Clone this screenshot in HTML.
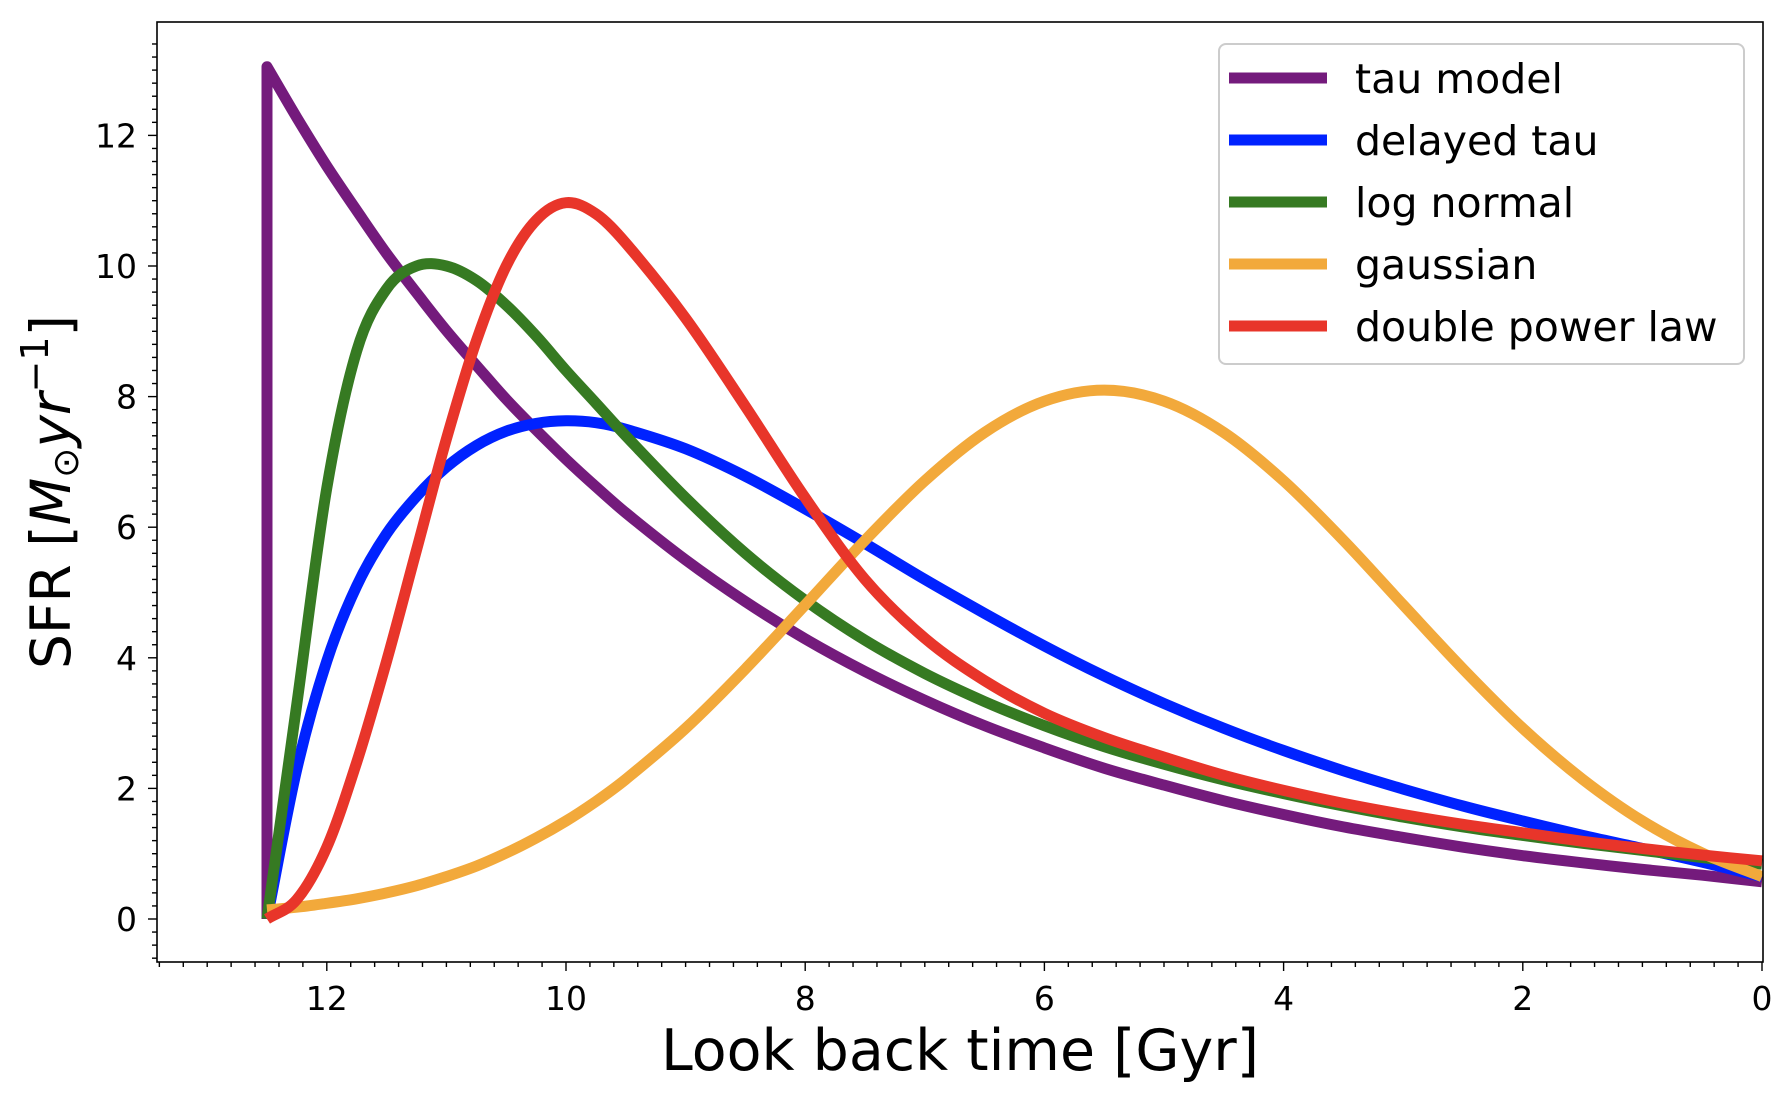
<!DOCTYPE html>
<html><head><meta charset="utf-8"><style>
html,body{margin:0;padding:0;background:#fff;}
svg{display:block;font-family:"DejaVu Sans","Liberation Sans",sans-serif;}
</style></head><body>
<svg id="chart" width="1788" height="1094" viewBox="0 0 1788 1094" xmlns="http://www.w3.org/2000/svg">
<defs><clipPath id="plotclip"><rect x="157" y="22" width="1606" height="940"/></clipPath></defs>
<g id="curves" clip-path="url(#plotclip)"></g>
<rect x="157" y="22" width="1606" height="940" fill="none" stroke="#000" stroke-width="1.6"/>
<g id="ticks"></g>
<text x="960" y="1070" font-size="57" text-anchor="middle">Look back time [Gyr]</text>
<text transform="translate(70,492) rotate(-90)" font-size="55" text-anchor="middle">SFR [<tspan font-style="italic">M</tspan><tspan font-size="36" dy="8">⊙</tspan><tspan font-style="italic" dy="-8">yr</tspan><tspan font-size="38" dy="-22">−1</tspan><tspan dy="22">]</tspan></text>
<g id="legend"></g>
</svg>
<script>
const times = [12.5,12.25,12,11.75,11.5,11.25,11,10.75,10.5,10.25,10,9.75,9.5,9,8.5,8,7.5,7,6.5,6,5.5,5,4.5,4,3.5,3,2.5,2,1.5,1,0.5,0];
const tauModel = [13.05,12.27,11.53,10.85,10.19,9.59,9.01,8.48,7.96,7.49,7.04,6.62,6.22,5.50,4.86,4.29,3.79,3.35,2.96,2.62,2.31,2.05,1.81,1.60,1.41,1.25,1.10,0.97,0.86,0.76,0.67,0.57];
const delayedTau = [0,2.3,3.95,5.1,5.9,6.47,6.92,7.25,7.47,7.59,7.63,7.6,7.5,7.2,6.78,6.28,5.75,5.2,4.68,4.18,3.72,3.3,2.92,2.58,2.27,1.99,1.73,1.5,1.28,1.08,0.87,0.65];
const logNormal = [0,3.3,6.6,8.7,9.65,10.0,10.0,9.78,9.4,8.93,8.4,7.9,7.4,6.45,5.6,4.88,4.27,3.76,3.33,2.96,2.64,2.37,2.13,1.92,1.73,1.56,1.41,1.28,1.16,1.05,0.94,0.84];
const gaussian = [0.14,0.18,0.24,0.31,0.40,0.51,0.65,0.81,1.01,1.24,1.50,1.80,2.14,2.92,3.83,4.81,5.80,6.71,7.45,7.93,8.1,7.93,7.45,6.71,5.80,4.81,3.83,2.92,2.14,1.50,1.01,0.65];
const doublePower = [0,0.3,1.1,2.4,3.95,5.65,7.35,8.85,10.0,10.7,10.97,10.8,10.35,9.2,7.85,6.45,5.2,4.3,3.65,3.15,2.78,2.48,2.2,1.97,1.77,1.6,1.45,1.32,1.19,1.08,0.98,0.89];
const seriesNames = ["tau model","delayed tau","log normal","gaussian","double power law"];
const seriesColors = ["#741b7c","#0022ff","#367a22","#f2a93b","#e8352a"];
const xTickLabels = ["12","10","8","6","4","2","0"];
const yTickLabels = ["0","2","4","6","8","10","12"];

const NS="http://www.w3.org/2000/svg";
function X(t){return 1762-119.6*t;}
function Y(v){return 919-65.3*v;}
function mk(tag,attrs,parent){const e=document.createElementNS(NS,tag);for(const k in attrs)e.setAttribute(k,attrs[k]);parent.appendChild(e);return e;}

const curves=document.getElementById('curves');
const allSeries=[tauModel,delayedTau,logNormal,gaussian,doublePower];
allSeries.forEach((vals,si)=>{
  const pts=times.map((t,i)=>[X(t),Y(vals[i])]);
  const n=pts.length;
  const m=pts.map((p,i)=>{
    const a=pts[Math.max(0,i-1)], b=pts[Math.min(n-1,i+1)];
    return (b[1]-a[1])/(b[0]-a[0]);
  });
  if(si===0){ m[0]=(pts[1][1]-pts[0][1])/(pts[1][0]-pts[0][0]); }
  let d="";
  if(si===0) d="M"+X(times[0]).toFixed(1)+","+Y(0).toFixed(1)+" L";
  else d="M";
  d+=pts[0][0].toFixed(1)+","+pts[0][1].toFixed(1);
  for(let i=0;i<n-1;i++){
    const p1=pts[i],p2=pts[i+1],dx=(p2[0]-p1[0])/3;
    const c1x=p1[0]+dx,c1y=p1[1]+m[i]*dx,c2x=p2[0]-dx,c2y=p2[1]-m[i+1]*dx;
    d+=" C"+c1x.toFixed(1)+","+c1y.toFixed(1)+" "+c2x.toFixed(1)+","+c2y.toFixed(1)+" "+p2[0].toFixed(1)+","+p2[1].toFixed(1);
  }
  const p=mk('path',{d:d,fill:'none',stroke:seriesColors[si],'stroke-width':11,'stroke-linejoin':'round','stroke-linecap':'butt'},curves);
  
  
});

const ticks=document.getElementById('ticks');
for(let k=-3;k<=67;k++){
  const v=k*0.2; const y=Y(v); if(y<22||y>962) continue;
  const major=(k%10===0);
  const tl=mk('line',{x1:157,x2:157-(major?9:5),y1:y,y2:y,stroke:'#000','stroke-width':1.4},ticks);
  
  
}
for(let k=0;k<=67;k++){
  const t=k*0.2; const x=X(t); if(x<157||x>1763) continue;
  const major=(k%10===0);
  const tl=mk('line',{x1:x,x2:x,y1:962,y2:962+(major?9:5),stroke:'#000','stroke-width':1.4},ticks);
  
  
}
xTickLabels.forEach(s=>{
  const e=mk('text',{x:X(parseFloat(s)),y:1010,'font-size':33,'text-anchor':'middle'},ticks);
  e.textContent=s;
  
  
});
yTickLabels.forEach(s=>{
  const e=mk('text',{x:137,y:Y(parseFloat(s))+12,'font-size':33,'text-anchor':'end'},ticks);
  e.textContent=s;
  
  
});

const leg=document.getElementById('legend');
const box=mk('rect',{x:1219,y:44,width:525,height:320,rx:7,fill:'#fff','fill-opacity':0.85,stroke:'#cccccc','stroke-width':2},leg);


seriesNames.forEach((n,i)=>{
  const cy=78+62*i;
  const g=mk('g',{},leg);
  
  
  mk('line',{x1:1229,x2:1327,y1:cy,y2:cy,stroke:seriesColors[i],'stroke-width':11},g);
  const t=mk('text',{x:1355,y:cy+15,'font-size':41},g);
  t.textContent=n;
});
</script>
</body></html>
